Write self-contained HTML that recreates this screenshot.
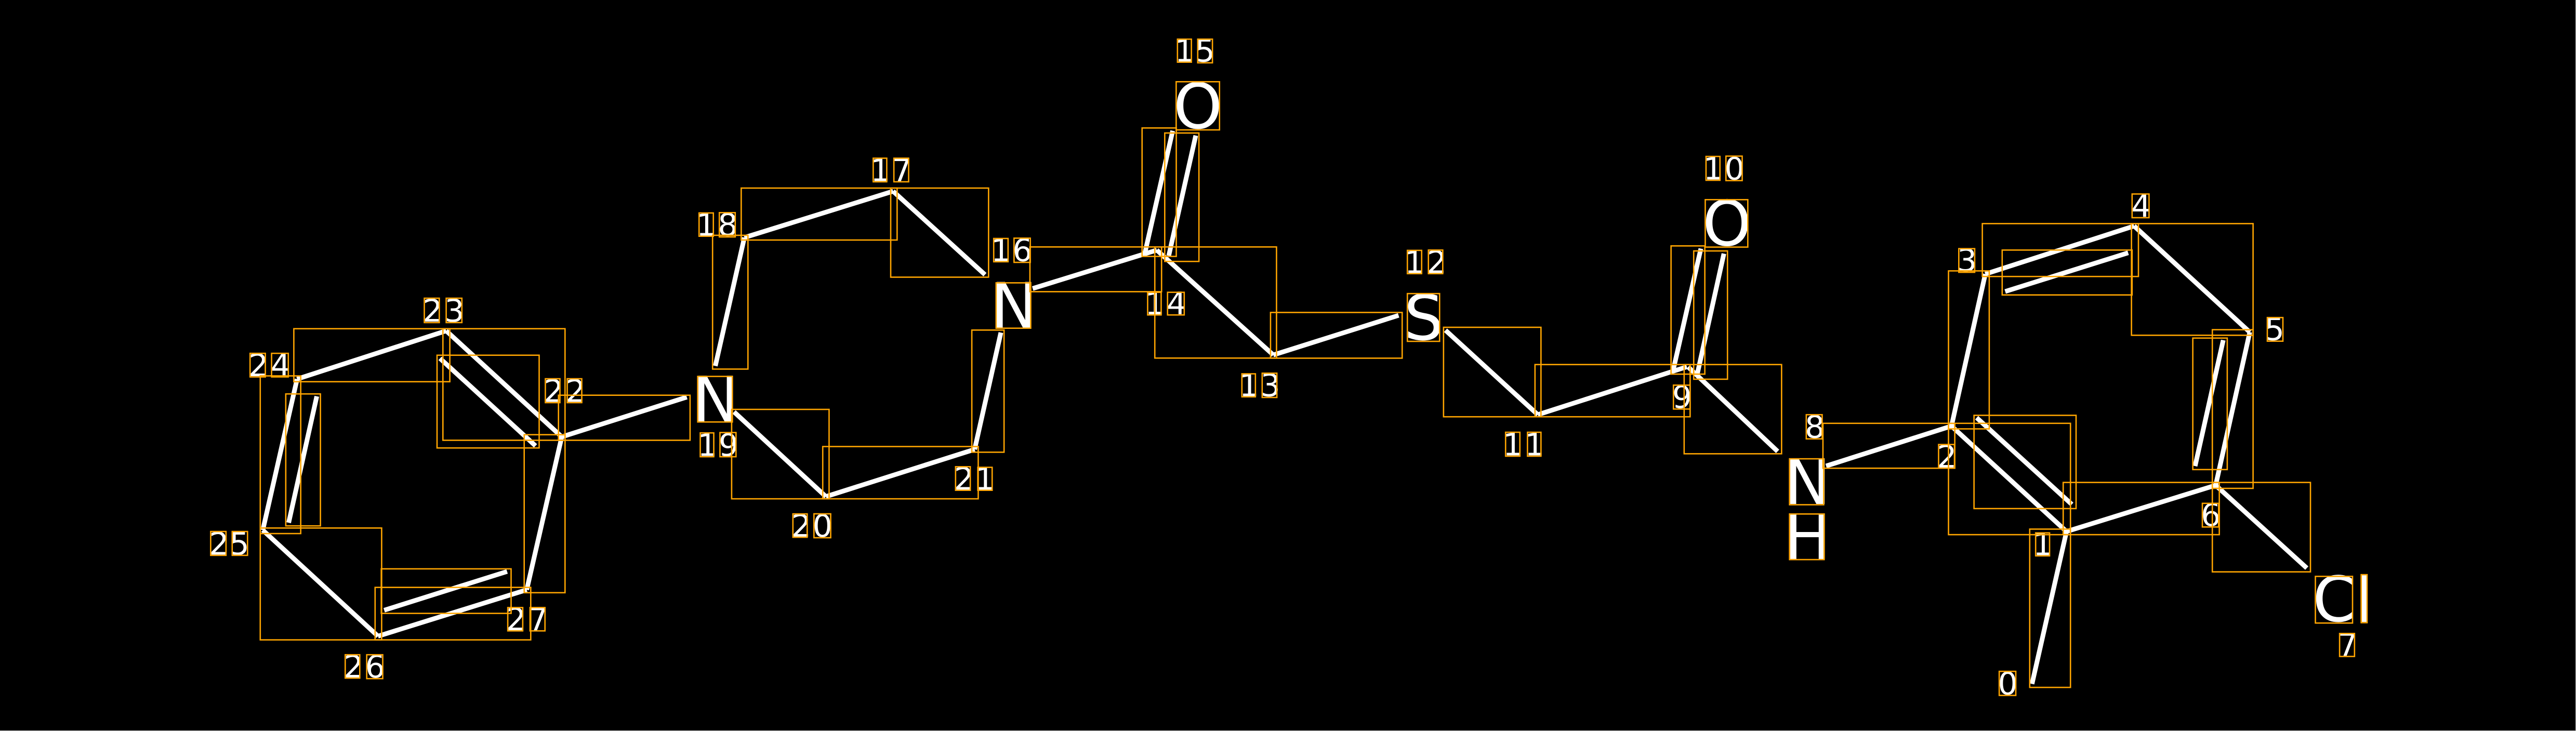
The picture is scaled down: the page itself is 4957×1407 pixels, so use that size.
<!DOCTYPE html>
<html lang="en">
<head>
<meta charset="utf-8">
<title>Molecule diagram</title>
<style>
html,body{margin:0;padding:0;background:#000;width:4957px;height:1407px;overflow:hidden}
svg{display:block}
text{font-family:"DejaVu Sans",sans-serif;fill:#fff}
.s{font-size:60px}
.b{font-size:120px}
#l line{stroke:#fff;stroke-width:9;stroke-linecap:butt}
#r rect{fill:none;stroke:#ffa500;stroke-width:2.6}
</style>
</head>
<body>
<svg width="4957" height="1407" viewBox="0 0 4957 1407" xmlns="http://www.w3.org/2000/svg">
<rect width="4957" height="1407" fill="#000"/>
<g id="l">
<line x1="3976.6" y1="1023" x2="3910.2" y2="1316.4"/>
<line x1="3976.6" y1="1023" x2="3755.2" y2="820.1"/>
<line x1="3803.7" y1="804" x2="3986.8" y2="970.8"/>
<line x1="3755.2" y1="820.1" x2="3820.3" y2="527.5"/>
<line x1="3820.3" y1="527.5" x2="4106.7" y2="435"/>
<line x1="3858.6" y1="561" x2="4095.2" y2="486.6"/>
<line x1="4106.7" y1="435" x2="4329.3" y2="639.3"/>
<line x1="4329.3" y1="639.3" x2="4263.6" y2="934"/>
<line x1="4278.2" y1="654.7" x2="4224" y2="897.1"/>
<line x1="4263.6" y1="934" x2="3976.6" y2="1023"/>
<line x1="4263.6" y1="934" x2="4439" y2="1093.4"/>
<line x1="3514" y1="896.9" x2="3755.2" y2="820.1"/>
<line x1="3248.5" y1="706.3" x2="3420.7" y2="868.8"/>
<line x1="3219.4" y1="713.8" x2="3273" y2="478.5"/>
<line x1="3265.3" y1="723.6" x2="3317.3" y2="488.2"/>
<line x1="2959.2" y1="798.2" x2="3246" y2="706"/>
<line x1="2781.6" y1="635.7" x2="2959.2" y2="798.2"/>
<line x1="2450.2" y1="683.2" x2="2691.3" y2="607"/>
<line x1="2226" y1="481.4" x2="2450.2" y2="683.2"/>
<line x1="2203" y1="487.5" x2="2256.6" y2="251.8"/>
<line x1="2249" y1="492.3" x2="2301" y2="260.9"/>
<line x1="1987.2" y1="555.3" x2="2226" y2="481.4"/>
<line x1="1718.6" y1="368.1" x2="1895.4" y2="528.7"/>
<line x1="1432.4" y1="457.2" x2="1718.6" y2="368.1"/>
<line x1="1376.5" y1="704.4" x2="1432.4" y2="457.2"/>
<line x1="1412.5" y1="792.8" x2="1589.3" y2="955.8"/>
<line x1="1589.3" y1="955.8" x2="1875.5" y2="864.9"/>
<line x1="1875.5" y1="864.9" x2="1926" y2="640.1"/>
<line x1="1081" y1="840.8" x2="1321.6" y2="764.3"/>
<line x1="858.6" y1="636.7" x2="1081" y2="840.8"/>
<line x1="846.7" y1="689.8" x2="1030.5" y2="858.2"/>
<line x1="571.7" y1="729.6" x2="858.6" y2="636.7"/>
<line x1="505.7" y1="1020.4" x2="571.7" y2="729.6"/>
<line x1="555.5" y1="1006.1" x2="609.6" y2="762.8"/>
<line x1="505.7" y1="1020.4" x2="727.4" y2="1224.5"/>
<line x1="727.4" y1="1224.5" x2="1013.6" y2="1135.2"/>
<line x1="739.3" y1="1174.5" x2="975.8" y2="1100"/>
<line x1="1013.6" y1="1135.2" x2="1081" y2="840.8"/>
</g>
<g>
<text class="s" x="3844.4" y="1336.3">0</text>
<text class="s" x="3911.9" y="1068.6">1</text>
<text class="s" x="3727.3" y="899.9">2</text>
<text class="s" x="3766" y="521.9">3</text>
<text class="s" x="4101.2" y="417.7">4</text>
<text class="s" x="4357.8" y="654.5">5</text>
<text class="s" x="4235.1" y="1012.1">6</text>
<text class="s" x="4498.5" y="1262.2">7</text>
<text class="s" x="3473" y="842.5">8</text>
<text class="s" x="3217.7" y="785.2">9</text>
<text class="s" x="3277.6" y="345.7">1</text><text class="s" x="3318.5" y="345.7">0</text>
<text class="s" x="2891.9" y="876.7">1</text><text class="s" x="2934" y="876.7">1</text>
<text class="s" x="2702.9" y="525.4">1</text><text class="s" x="2745.6" y="525.4">2</text>
<text class="s" x="2384.5" y="762.5">1</text><text class="s" x="2425.5" y="762.5">3</text>
<text class="s" x="2203.1" y="604.9">1</text><text class="s" x="2245.1" y="604.9">4</text>
<text class="s" x="2260.5" y="118.4">1</text><text class="s" x="2299.6" y="118.4">5</text>
<text class="s" x="1906.9" y="502.5">1</text><text class="s" x="1948.4" y="502.5">6</text>
<text class="s" x="1675" y="348.6">1</text><text class="s" x="1716.5" y="348.6">7</text>
<text class="s" x="1339.9" y="453.4">1</text><text class="s" x="1381.4" y="453.4">8</text>
<text class="s" x="1342.2" y="877.3">1</text><text class="s" x="1382.9" y="877.3">9</text>
<text class="s" x="1522.7" y="1033">2</text><text class="s" x="1563.6" y="1033">0</text>
<text class="s" x="1835.7" y="942.4">2</text><text class="s" x="1876.3" y="942.4">1</text>
<text class="s" x="1046.3" y="773.7">2</text><text class="s" x="1088.4" y="773.7">2</text>
<text class="s" x="813.4" y="619.2">2</text><text class="s" x="855.3" y="619.2">3</text>
<text class="s" x="478.1" y="724.2">2</text><text class="s" x="521" y="724.2">4</text>
<text class="s" x="402.3" y="1067.6">2</text><text class="s" x="441.6" y="1067.6">5</text>
<text class="s" x="661.2" y="1304">2</text><text class="s" x="702.8" y="1304">6</text>
<text class="s" x="974" y="1213">2</text><text class="s" x="1016.3" y="1213">7</text>
<text class="b" x="1332.1" y="810.9">N</text>
<text class="b" x="1906.3" y="630.4">N</text>
<text class="b" x="2257.9" y="247">O</text>
<text class="b" x="2701.6" y="654">S</text>
<text class="b" x="3276" y="472.6">O</text>
<text class="b" x="3433.1" y="970.2">N</text>
<text class="b" x="3433.1" y="1075.8">H</text>
<text class="b" x="4450.1" y="1196.2">C</text>
<text class="b" x="4533.6" y="1197.2">l</text>
</g>
<g id="r">
<rect x="565.4" y="632.7" width="300.2" height="102"/>
<rect x="852.3" y="632.7" width="235" height="214.7"/>
<rect x="841" y="683.7" width="196.5" height="178.5"/>
<rect x="1074.7" y="760.7" width="253.2" height="86.7"/>
<rect x="500.8" y="723.5" width="77.9" height="303.5"/>
<rect x="549.9" y="758.2" width="66.7" height="254"/>
<rect x="500.8" y="1016.3" width="233.6" height="215.3"/>
<rect x="721.8" y="1130.6" width="299.5" height="101"/>
<rect x="733.7" y="1094.9" width="249.8" height="85.7"/>
<rect x="1008.7" y="836.7" width="78.6" height="304.1"/>
<rect x="1407.9" y="788" width="187.5" height="172.1"/>
<rect x="1583.2" y="859.5" width="299.2" height="100.6"/>
<rect x="1870.1" y="635.3" width="62" height="235.1"/>
<rect x="1981.9" y="475.3" width="253.3" height="86.1"/>
<rect x="2197.7" y="246.3" width="65.8" height="247.2"/>
<rect x="2241.3" y="256" width="65.8" height="247.2"/>
<rect x="2222.2" y="475.3" width="234.2" height="213.9"/>
<rect x="2444.9" y="601.4" width="253.3" height="88"/>
<rect x="1426.3" y="362" width="300" height="100"/>
<rect x="1714" y="362" width="188.3" height="171.5"/>
<rect x="1371.2" y="452.9" width="68.1" height="257.5"/>
<rect x="2777.8" y="630" width="187.5" height="172.2"/>
<rect x="2953.8" y="701.7" width="298.5" height="100.5"/>
<rect x="3215.6" y="473.3" width="65" height="246.8"/>
<rect x="3259.2" y="483" width="65" height="246.9"/>
<rect x="3240.8" y="701.7" width="187.5" height="171.7"/>
<rect x="3507.9" y="814.8" width="253.7" height="86.4"/>
<rect x="3814.6" y="430.4" width="300.4" height="101.8"/>
<rect x="3852.8" y="481.3" width="250" height="86.4"/>
<rect x="4101.6" y="430.4" width="234" height="214.9"/>
<rect x="4257.2" y="634.6" width="78.4" height="305.4"/>
<rect x="4219.6" y="650.7" width="66.3" height="253.1"/>
<rect x="3970.2" y="928.6" width="300.4" height="100.5"/>
<rect x="4257.2" y="928.6" width="188.8" height="172.1"/>
<rect x="3749.5" y="814.8" width="234.7" height="214.3"/>
<rect x="3798.6" y="799.4" width="196.4" height="179.5"/>
<rect x="3749.5" y="521.4" width="78.4" height="304.1"/>
<rect x="3905.8" y="1018.4" width="78.4" height="304.7"/>
<rect x="3847.1" y="1292.2" width="31.9" height="46.3"/>
<rect x="3917.2" y="1025.7" width="26.8" height="44.2"/>
<rect x="3730.4" y="855.6" width="30.6" height="45.6"/>
<rect x="3769.3" y="478.6" width="30.6" height="45.5"/>
<rect x="4102.8" y="373.4" width="32.6" height="45.6"/>
<rect x="4363" y="611.2" width="30" height="45.5"/>
<rect x="4238" y="968.8" width="31.3" height="45.5"/>
<rect x="4502.1" y="1219.3" width="28.7" height="44.2"/>
<rect x="3475.8" y="798.2" width="30.6" height="46.5"/>
<rect x="3220.2" y="741.3" width="32.1" height="46"/>
<rect x="3282.9" y="301.1" width="26.8" height="45.9"/>
<rect x="3321.2" y="300.5" width="31.3" height="47.1"/>
<rect x="2897.2" y="832" width="27.5" height="46"/>
<rect x="2939.3" y="832" width="26" height="46"/>
<rect x="2708.2" y="481.9" width="27.5" height="44.8"/>
<rect x="2748.7" y="481.3" width="27.6" height="45.4"/>
<rect x="2389.8" y="719.5" width="26" height="44.3"/>
<rect x="2428.8" y="718.3" width="28.3" height="46.7"/>
<rect x="2208.4" y="562.6" width="26" height="43.6"/>
<rect x="2246.7" y="562.6" width="32.1" height="43.6"/>
<rect x="2265.8" y="75.4" width="26.8" height="44.3"/>
<rect x="2304.8" y="75.4" width="28.3" height="45.5"/>
<rect x="1912.2" y="459" width="27.6" height="44.8"/>
<rect x="1951.3" y="458.4" width="31.3" height="46.6"/>
<rect x="1680.3" y="304.5" width="26.1" height="45.4"/>
<rect x="1720.1" y="304.5" width="28.4" height="45.4"/>
<rect x="1345.2" y="409.9" width="27.5" height="44.8"/>
<rect x="1384.2" y="409.3" width="30.6" height="46.7"/>
<rect x="1347.5" y="833.2" width="26" height="45.9"/>
<rect x="1385.4" y="832.6" width="30.9" height="46.5"/>
<rect x="1525.8" y="989.1" width="27.5" height="45"/>
<rect x="1566.3" y="989" width="32.2" height="46"/>
<rect x="1838.8" y="898.3" width="28.3" height="45.4"/>
<rect x="1881.6" y="899.5" width="27.6" height="44.2"/>
<rect x="1049.4" y="729" width="28.1" height="46"/>
<rect x="1091.5" y="729" width="28" height="46"/>
<rect x="816.5" y="574" width="28.8" height="46.9"/>
<rect x="858.6" y="574" width="30.2" height="46.9"/>
<rect x="481.2" y="680.1" width="29.4" height="45.4"/>
<rect x="522.6" y="680.1" width="32.2" height="45.4"/>
<rect x="405.4" y="1023" width="29.5" height="45.9"/>
<rect x="446.8" y="1023" width="29.5" height="45.9"/>
<rect x="664.3" y="1260.2" width="28" height="45"/>
<rect x="705.7" y="1260.2" width="30.8" height="46"/>
<rect x="977.1" y="1169.4" width="28.8" height="44.9"/>
<rect x="1019.9" y="1169.4" width="28.8" height="44.9"/>
<rect x="1342.6" y="724.5" width="66.7" height="87.7"/>
<rect x="1916.8" y="544.4" width="66.6" height="87.3"/>
<rect x="2263.3" y="157.3" width="83.4" height="92.7"/>
<rect x="2708.2" y="565.1" width="62" height="91.9"/>
<rect x="3281.4" y="384.3" width="81.9" height="91.3"/>
<rect x="3443.6" y="883.1" width="65.8" height="88.4"/>
<rect x="3443.6" y="989.3" width="66.6" height="87.8"/>
<rect x="4455.5" y="1109.4" width="71.5" height="89.8"/>
<rect x="4543.6" y="1106.1" width="11.4" height="92.4"/>
</g>
<rect x="4956" y="0" width="1" height="1407" fill="#ccc"/>
<rect x="0" y="1406" width="4957" height="1" fill="#ccc"/>
</svg>
</body>
</html>
